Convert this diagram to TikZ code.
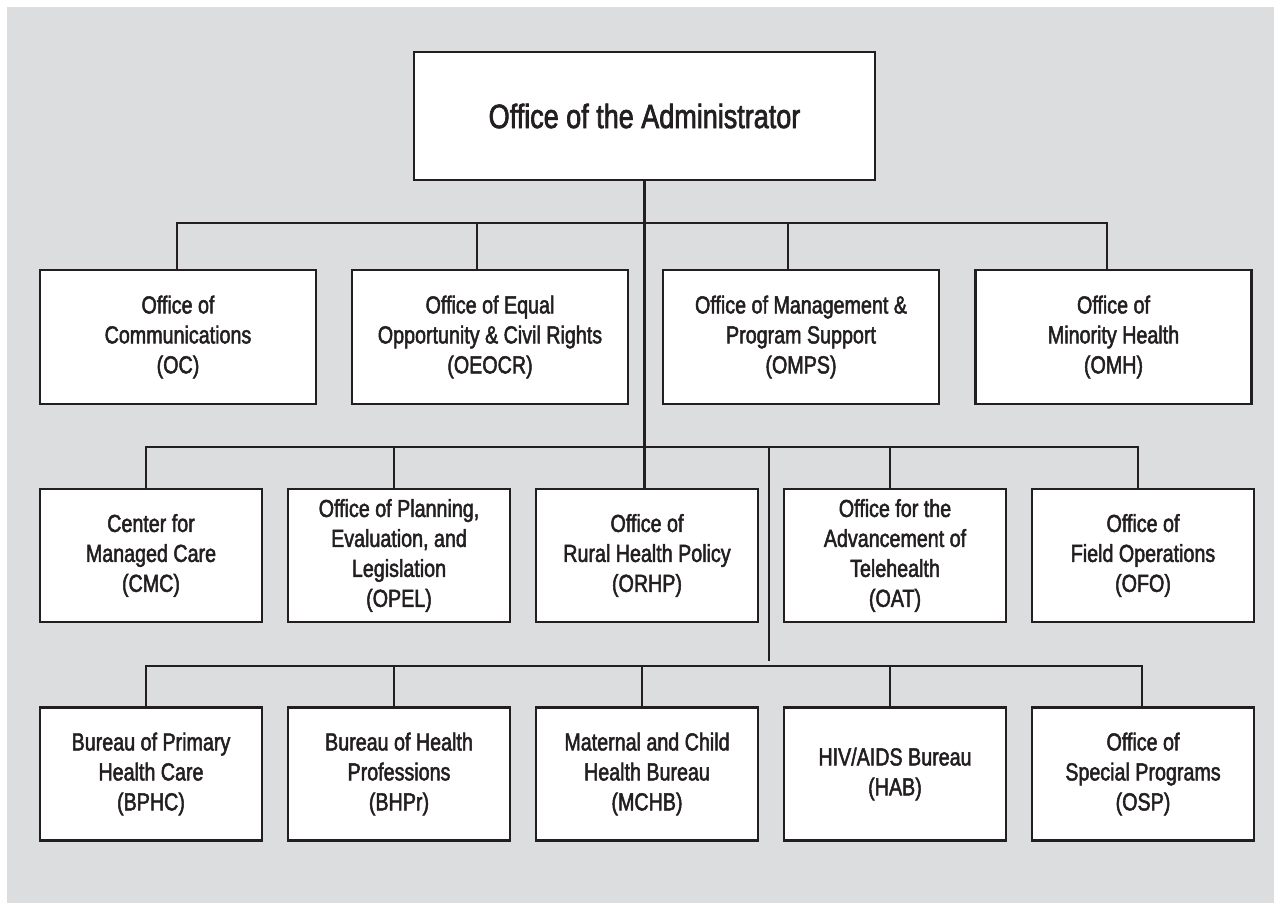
\documentclass[tikz,border=0pt]{standalone}
\usepackage{fontspec}
\setmainfont[FakeStretch=0.8, FakeBold=2]{Liberation Sans}
\usepackage{tikz}

\definecolor{panel}{RGB}{220,221,223}
\definecolor{ink}{RGB}{35,31,32}
\tikzstyle{head} = [rectangle, draw=ink, fill=white, line width=2pt, minimum width=11.525cm, minimum height=3.2cm, text=ink, text centered, font=\fontsize{24}{28}\selectfont]
\tikzstyle{office} = [rectangle, draw=ink, fill=white, line width=2pt, minimum width=6.9cm, minimum height=3.35cm, text=ink, align=center, font=\fontsize{17.5}{21.3}\selectfont]
\tikzstyle{unit} = [office, minimum width=5.55cm, minimum height=3.325cm]
\tikzstyle{link} = [draw=ink, line width=2pt]

\begin{document}
\begin{tikzpicture}[x=0.025cm, y=-0.025cm]

	\useasboundingbox (0,0) rectangle (1274,903);
	\fill[panel] (7,7) rectangle (1274,903);

	\node (admin) [head] at (644.5,116) {Office of the Administrator};

	\node (oc) [office] at (178,337) {Office of\\Communications\\(OC)};
	\node (oeocr) [office] at (490,337) {Office of Equal\\Opportunity \& Civil Rights\\(OEOCR)};
	\node (omps) [office] at (801,337) {Office of Management \&\\Program Support\\(OMPS)};
	\node (omh) [office] at (1113.5,337) {Office of\\Minority Health\\(OMH)};

	\node (cmc) [unit] at (151,555.5) {Center for\\Managed Care\\(CMC)};
	\node (opel) [unit] at (399,555.5) {Office of Planning,\\Evaluation, and\\Legislation\\(OPEL)};
	\node (orhp) [unit] at (647,555.5) {Office of\\Rural Health Policy\\(ORHP)};
	\node (oat) [unit] at (895,555.5) {Office for the\\Advancement of\\Telehealth\\(OAT)};
	\node (ofo) [unit] at (1143,555.5) {Office of\\Field Operations\\(OFO)};

	\node (bphc) [unit] at (151,774) {Bureau of Primary\\Health Care\\(BPHC)};
	\node (bhpr) [unit] at (399,774) {Bureau of Health\\Professions\\(BHPr)};
	\node (mchb) [unit] at (647,774) {Maternal and Child\\Health Bureau\\(MCHB)};
	\node (hab) [unit] at (895,774) {HIV/AIDS Bureau\\(HAB)};
	\node (osp) [unit] at (1143,774) {Office of\\Special Programs\\(OSP)};

	% trunk
	\draw [link] (admin.south) -- (admin.south |- orhp.north);

	% staff offices
	\draw [link] (177,0 |- oc.north) |- (1107,223) -- (1107,0 |- omh.north);
	\draw [link] (477,223) -- (477,0 |- oeocr.north);
	\draw [link] (788,223) -- (788,0 |- omps.north);

	% centers and offices
	\draw [link] (146,0 |- cmc.north) |- (1138,447) -- (1138,0 |- ofo.north);
	\draw [link] (394,447) -- (394,0 |- opel.north);
	\draw [link] (890,447) -- (890,0 |- oat.north);

	% bureaus
	\coordinate (feed) at (769,661);
	\draw [link] (769,447) -- (feed);
	\draw [link] (146,0 |- bphc.north) |- (1142,666) -- (1142,0 |- osp.north);
	\draw [link] (394,666) -- (394,0 |- bhpr.north);
	\draw [link] (642,666) -- (642,0 |- mchb.north);
	\draw [link] (890,666) -- (890,0 |- hab.north);

\end{tikzpicture}
\end{document}
